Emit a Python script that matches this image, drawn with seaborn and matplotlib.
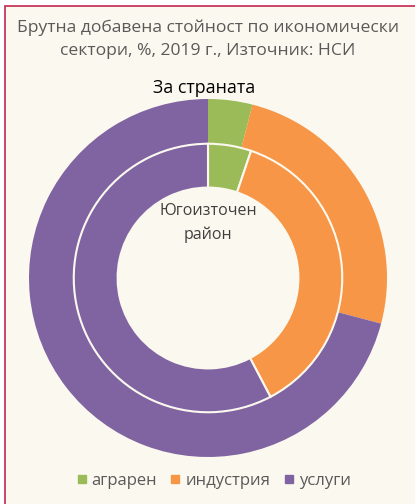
import numpy as np
import matplotlib
matplotlib.use("Agg")
import matplotlib.pyplot as plt
from matplotlib.patches import Rectangle
from matplotlib.lines import Line2D
import seaborn as sns

# data (%)
sectors = ['аграрен', 'индустрия', 'услуги']
country = [4.0, 25.1, 70.9]       # За страната (outer ring)
southeast = [5.2, 37.1, 57.7]     # Югоизточен район (inner ring)
title = 'Брутна добавена стойност по икономически\nсектори, %, 2019 г., Източник: НСИ'

sns.set_theme(style='white')
plt.rcParams['font.family'] = ['Open Sans', 'DejaVu Sans']
colors = sns.color_palette(['#9BBB59', '#F79646', '#8064A2'])
bg = '#FBF9EF'

fig = plt.figure(figsize=(4.15, 5.04), dpi=100)
fig.patch.set_facecolor('white')
# cream panel with red border on the visible left/top edges
fig.patches.append(Rectangle((5 / 415, -0.05), 1.1, 1 - 6 / 504 + 0.05,
                             transform=fig.transFigure, facecolor=bg,
                             edgecolor='#C8385A', linewidth=1.3, zorder=-5))

ax = fig.add_axes([29 / 415, 47 / 504, 358 / 415, 358 / 504])
ax.set_facecolor('none')
ax.set_zorder(2)

ax.pie(country, radius=1.0, colors=colors, startangle=90, counterclock=False,
       wedgeprops=dict(width=0.25, edgecolor='none'))
ax.pie(southeast, radius=0.75, colors=colors, startangle=90, counterclock=False,
       wedgeprops=dict(width=0.245, edgecolor=bg, linewidth=1.5))
ax.set_xlim(-1, 1)
ax.set_ylim(-1, 1)
ax.set_aspect('equal')
ax.axis('off')

fig.text(0.5, 1 - 39 / 504, title, ha='center', va='center', fontsize=12.6,
         color='#595959', linespacing=1.6)
fig.text(204 / 415, 1 - 88 / 504, 'За страната', ha='center', va='center',
         fontsize=12.8, color='black')
ax.text(0, 0.31, 'Югоизточен\nрайон', ha='center', va='center', fontsize=11.5,
        color='#404040', linespacing=1.6)

handles = [Line2D([], [], marker='s', linestyle='none', markersize=6,
                  markerfacecolor=c, markeredgecolor=c) for c in colors]
fig.legend(handles, sectors, loc='center', bbox_to_anchor=(212 / 415, 23 / 504),
           ncol=3, frameon=False, fontsize=12, labelcolor='#595959',
           handletextpad=0.1, columnspacing=0.6, handlelength=1.0)

fig.savefig('out.png', dpi=100, facecolor=fig.get_facecolor())
